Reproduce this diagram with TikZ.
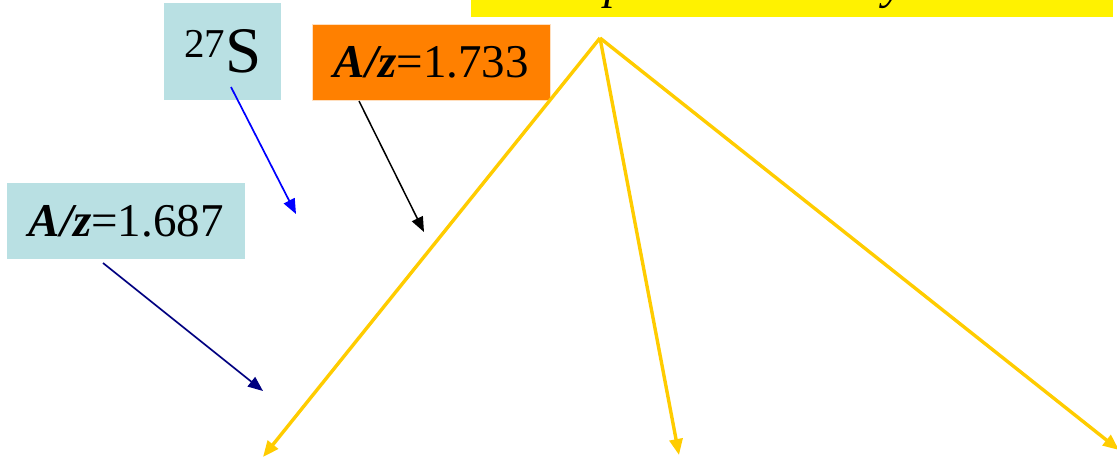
\documentclass[tikz,border=0pt]{standalone}
\usepackage{fontspec}
\setmainfont{Liberation Serif}
\usetikzlibrary{arrows.meta}
\definecolor{boxblue}{RGB}{185,224,227}
\definecolor{boxorange}{RGB}{255,128,0}
\definecolor{gold}{RGB}{255,204,0}
\definecolor{navyarr}{RGB}{0,0,128}
\begin{document}
\begin{tikzpicture}[x=1pt,y=-1pt,
  lab/.style={inner sep=0pt, minimum height=76pt, font=\fontsize{47}{50}\selectfont},
  goldarrow/.style={gold, line width=3.4pt, -{Triangle[length=16pt,width=13pt]}},
  thinarrow/.style={line width=1.7pt, -{Triangle[length=15pt,width=12pt]}}]
\useasboundingbox (0,0) rectangle (1117,459);
% yellow title bar (cut at top)
\begin{scope}
\clip (0,0) rectangle (1117,459);
\fill[yellow] (471,-20) rectangle (1113,17);
\node[anchor=base, inner sep=0pt, font=\fontsize{47}{50}\selectfont\itshape] (tp) at (616,-2) {p};
\node[anchor=base, inner sep=0pt, font=\fontsize{47}{50}\selectfont\itshape] (ty) at (894,-2) {y};
\end{scope}
% boxes
\node[lab, fill=boxblue, minimum width=117pt, minimum height=97pt, anchor=north west] (s27) at (164,3)
  {\raisebox{15pt}{\fontsize{41}{43}\selectfont 27}\fontsize{65}{67}\selectfont S};
\node[lab, fill=boxorange, draw=orange!25, line width=0.8pt, minimum width=238pt, anchor=north west] (az1) at (312,24)
  {\textbf{\textit{A/z}}=1.733};
\node[lab, fill=boxblue, minimum width=238pt, anchor=north west] (az2) at (7,183)
  {\textbf{\textit{A/z}}=1.687};
% thin arrows
\coordinate (bs) at (231,87);   \coordinate (be) at (296,214);
\coordinate (ks) at (359,101);  \coordinate (ke) at (424,232);
\coordinate (ns) at (103,263);  \coordinate (ne) at (263,391);
\draw[thinarrow, blue] (bs) -- (be);
\draw[thinarrow, black, line width=1.5pt] (ks) -- (ke);
\draw[thinarrow, navyarr] (ns) -- (ne);
% gold arrows from apex
\coordinate (apex) at (600,38);
\coordinate (g1) at (263,457);
\coordinate (g2) at (679,455);
\coordinate (g3) at (1119,450);
\draw[goldarrow] (apex) -- (g1);
\draw[goldarrow] (apex) -- (g2);
\draw[goldarrow] (apex) -- (g3);
\end{tikzpicture}
\end{document}
